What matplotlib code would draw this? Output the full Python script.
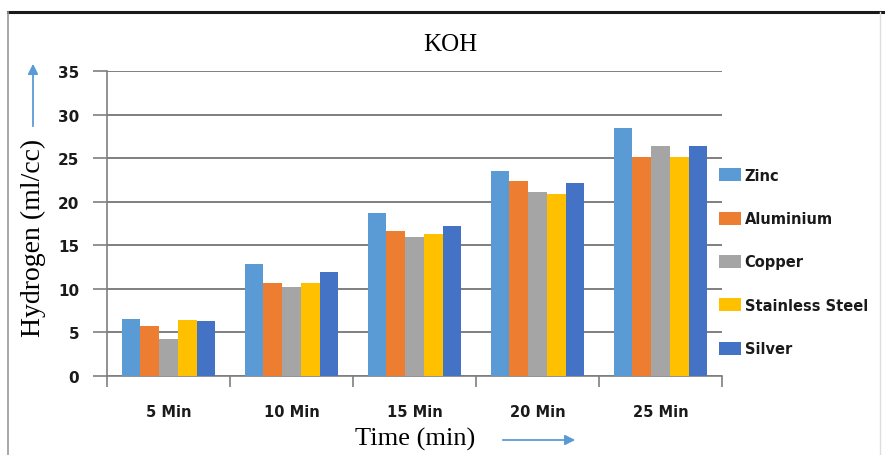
import matplotlib
matplotlib.use("Agg")
import matplotlib.pyplot as plt
import numpy as np
from matplotlib.lines import Line2D
from matplotlib.patches import FancyArrowPatch

categories = ["5 Min", "10 Min", "15 Min", "20 Min", "25 Min"]
series_names = ["Zinc", "Aluminium", "Copper", "Stainless Steel", "Silver"]
zinc = [6.5, 12.9, 18.7, 23.5, 28.5]
aluminium = [5.7, 10.7, 16.6, 22.4, 25.1]
copper = [4.2, 10.2, 15.9, 21.1, 26.4]
stainless_steel = [6.4, 10.7, 16.3, 20.9, 25.1]
silver = [6.3, 11.9, 17.2, 22.1, 26.4]
yticks = [0, 5, 10, 15, 20, 25, 30, 35]

series_values = [zinc, aluminium, copper, stainless_steel, silver]
colors = ["#5B9BD5", "#ED7D31", "#A5A5A5", "#FFC000", "#4472C4"]

W, H = 885, 456
fig = plt.figure(figsize=(W / 100, H / 100), dpi=100)
fig.patch.set_facecolor("white")

# outer frame: heavy top rule, thin side rules
fig.add_artist(Line2D([8 / W, 1], [1 - 13 / H, 1 - 13 / H], color="#1a1a1a", lw=2.2))
fig.add_artist(Line2D([8 / W, 8 / W], [0, 1 - 13 / H], color="#9a9a9a", lw=1.2))
fig.add_artist(Line2D([880 / W, 880 / W], [0, 1 - 13 / H], color="#dddddd", lw=1.0))

left, right, bottom, top = 107, 722, 377, 72
ax = fig.add_axes([left / W, 1 - bottom / H, (right - left) / W, (bottom - top) / H])

n = len(series_names)
x = np.arange(len(categories))
group = 0.76
bw = group / n
for i, (name, vals, c) in enumerate(zip(series_names, series_values, colors)):
    ax.bar(x - group / 2 + bw * (i + 0.5), vals, width=bw, color=c, label=name, zorder=3)

ax.set_xlim(-0.5, len(categories) - 0.5)
ax.set_ylim(0, 35)
ax.set_yticks(yticks)
ax.set_xticks(np.arange(len(categories) + 1) - 0.5, minor=False)
ax.set_xticklabels([])
ax.set_xticks(x, minor=True)
ax.set_xticklabels(categories, minor=True)
ax.tick_params(axis="x", which="minor", length=0, pad=20, labelsize=10.5)
ax.tick_params(axis="x", which="major", length=8, color="#7f7f7f", width=1.2)
ax.tick_params(axis="y", length=10, color="#7f7f7f", width=1.2, pad=10, labelsize=11)
for lab in ax.get_xticklabels(minor=True) + ax.get_yticklabels():
    lab.set_fontfamily("DejaVu Sans")
    lab.set_fontweight("bold")
    lab.set_color("#1a1a1a")

ax.grid(axis="y", color="#7f7f7f", lw=1.4, zorder=0)
for s in ["top", "right"]:
    ax.spines[s].set_visible(False)
for s in ["left", "bottom"]:
    ax.spines[s].set_color("#7f7f7f")
    ax.spines[s].set_linewidth(1.2)

serif = "Liberation Serif"
fig.text(450 / W, 1 - 45 / H, "KOH", ha="center", va="center", fontsize=18, family=serif)
fig.text(33 / W, 1 - 238 / H, "Hydrogen (ml/cc)", ha="center", va="center",
         rotation=90, fontsize=20, family=serif)
fig.text(415 / W, 1 - 439 / H, "Time (min)", ha="center", va="center", fontsize=19, family=serif)

# direction arrows beside the axis titles
arrow_col = "#5B9BD5"
fig.add_artist(FancyArrowPatch((33 / W, 1 - 130 / H), (33 / W, 1 - 62 / H),
               transform=fig.transFigure, arrowstyle="-|>,head_length=6,head_width=3",
               color=arrow_col, lw=1.3))
fig.add_artist(FancyArrowPatch((500 / W, 1 - 441 / H), (578 / W, 1 - 441 / H),
               transform=fig.transFigure, arrowstyle="-|>,head_length=6,head_width=3",
               color=arrow_col, lw=1.3))

leg = ax.legend(loc="center left", bbox_to_anchor=(706 / W, 1 - 263 / H),
                bbox_transform=fig.transFigure, frameon=False, handlelength=1.5,
                handleheight=1.0, handletextpad=0.25, labelspacing=1.95,
                prop={"family": "DejaVu Sans", "weight": "bold", "size": 10.5})
for t in leg.get_texts():
    t.set_color("#1a1a1a")

fig.savefig("out.png", dpi=100)
